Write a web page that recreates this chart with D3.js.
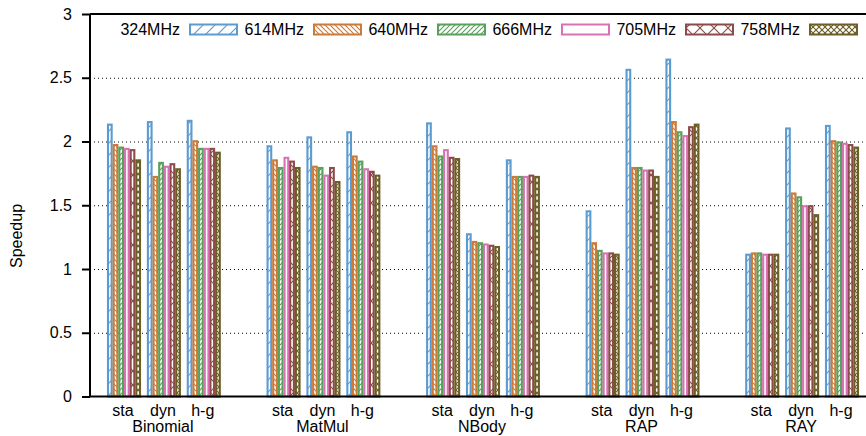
<!DOCTYPE html>
<html>
<head>
<meta charset="utf-8">
<script src="https://cdn.jsdelivr.net/npm/d3@7"></script>
<style>
	body { margin: 0; background: #fff; }
	svg { font-family: "Liberation Sans", Arial, sans-serif; font-size: 16px; }
	.grid line { stroke: #000; stroke-width: 1; stroke-dasharray: 1 3; }
	.grid path { display: none; }
	.yaxis path { display: none; }
	.yaxis line { stroke: #000; stroke-width: 2; }
	.yaxis text { font-size: 16px; fill: #000; }
</style>
</head>
<body>
<div id="chart"></div>
<script>
	// benchmarks and their three schedulers
	const groups = ["Binomial", "MatMul", "NBody", "RAP", "RAY"];
	const variants = ["sta", "dyn", "h-g"];
	const seriesNames = ["324MHz", "614MHz", "640MHz", "666MHz", "705MHz", "758MHz"];

	// speedups, listed group by group (sta, dyn, h-g)
	const s324 = [2.14, 2.16, 2.17, 1.97, 2.04, 2.08, 2.15, 1.28, 1.86, 1.46, 2.57, 2.65, 1.12, 2.11, 2.13];
	const s614 = [1.98, 1.73, 2.01, 1.86, 1.81, 1.89, 1.97, 1.22, 1.73, 1.21, 1.80, 2.16, 1.13, 1.60, 2.01];
	const s640 = [1.96, 1.84, 1.95, 1.80, 1.80, 1.85, 1.89, 1.21, 1.73, 1.15, 1.80, 2.08, 1.13, 1.57, 2.00];
	const s666 = [1.95, 1.81, 1.95, 1.88, 1.74, 1.79, 1.94, 1.20, 1.73, 1.13, 1.78, 2.05, 1.12, 1.50, 1.99];
	const s705 = [1.94, 1.83, 1.95, 1.85, 1.80, 1.77, 1.88, 1.19, 1.74, 1.13, 1.78, 2.12, 1.12, 1.50, 1.98];
	const s758 = [1.86, 1.79, 1.92, 1.80, 1.69, 1.74, 1.87, 1.18, 1.73, 1.12, 1.73, 2.14, 1.12, 1.43, 1.96];
	const seriesValues = [s324, s614, s640, s666, s705, s758];

	const yTicks = [0, 0.5, 1, 1.5, 2, 2.5, 3];

	/*-------------Size--------------*/
	const W = 866, H = 436;
	const plot = { l: 90, r: 866, t: 14, b: 396.5 };
	const colors = ["#5b9bd0", "#cc7a38", "#58a05b", "#d872b4", "#8c4a48", "#6b5f26"];

	const svg = d3.select("#chart").append("svg").attr("width", W).attr("height", H);

	/*-------------Patterns----------*/
	const defs = svg.append("defs");
	const pat = (id, size, color, paths) => {
		const p = defs.append("pattern").attr("id", id)
			.attr("patternUnits", "userSpaceOnUse")
			.attr("width", size).attr("height", size);
		p.append("rect").attr("width", size).attr("height", size).attr("fill", "#fff");
		paths.forEach((d) => p.append("path").attr("d", d).attr("stroke", color)
			.attr("stroke-width", 1.1).attr("fill", "none"));
	};
	const fwd = (s) => `M0,${s} L${s},0 M${-s / 2},${s / 2} L${s / 2},${-s / 2} M${s / 2},${s * 1.5} L${s * 1.5},${s / 2}`;
	const bwd = (s) => `M0,0 L${s},${s} M${-s / 2},${s / 2} L${s / 2},${s * 1.5} M${s / 2},${-s / 2} L${s * 1.5},${s / 2}`;
	pat("p0", 12, colors[0], [fwd(12)]);
	pat("p1", 5, colors[1], [bwd(5)]);
	pat("p2", 5, colors[2], [fwd(5)]);
	pat("p3", 10, colors[3], []);
	pat("p4", 14, colors[4], [fwd(14), bwd(14)]);
	pat("p5", 6, colors[5], [fwd(6), bwd(6)]);

	/*-------------Scales------------*/
	const y = d3.scaleLinear().domain([0, 3]).range([plot.b, plot.t]);
	// slot positions: three clusters per benchmark, one empty slot between benchmarks
	const slot = (g, v) => g * 4 + v + 1;
	const x = d3.scaleLinear().domain([1, 19]).range([124, 842]);
	const inner = d3.scaleBand().domain(d3.range(seriesNames.length)).range([-17, 17]).padding(0);

	/*-------------Grid & axes-------*/
	svg.append("g").attr("class", "grid")
		.attr("transform", `translate(${plot.l},0)`)
		.call(d3.axisLeft(y).tickValues([0.5, 1, 1.5, 2, 2.5]).tickSize(-(plot.r - plot.l)).tickFormat(""));

	svg.append("g").attr("class", "yaxis")
		.attr("transform", `translate(${plot.l},0)`)
		.call(d3.axisLeft(y).tickValues(yTicks).tickSize(8).tickPadding(10).tickFormat((d) => String(d)));

	/*-------------Bars--------------*/
	const bars = [];
	seriesValues.forEach((vals, si) => {
		vals.forEach((v, i) => {
			bars.push({ s: si, g: Math.floor(i / 3), v: i % 3, val: v });
		});
	});

	svg.append("g").selectAll("rect").data(bars).enter().append("rect")
		.attr("x", (d) => x(slot(d.g, d.v)) + inner(d.s) + 1)
		.attr("y", (d) => y(d.val) + 1)
		.attr("width", inner.bandwidth() - 2)
		.attr("height", (d) => y(0) - y(d.val) - 1)
		.attr("fill", (d) => `url(#p${d.s})`)
		.attr("stroke", (d) => colors[d.s])
		.attr("stroke-width", 2.1);

	/*-------------Frame-------------*/
	svg.append("line").attr("x1", plot.l).attr("x2", plot.l).attr("y1", plot.t).attr("y2", plot.b)
		.attr("stroke", "#000").attr("stroke-width", 2);
	svg.append("line").attr("x1", plot.l).attr("x2", plot.r).attr("y1", plot.b).attr("y2", plot.b)
		.attr("stroke", "#000").attr("stroke-width", 2);
	svg.append("line").attr("x1", plot.l).attr("x2", plot.r).attr("y1", plot.t).attr("y2", plot.t)
		.attr("stroke", "#000").attr("stroke-width", 2);

	/*-------------X labels----------*/
	const xl = svg.append("g").attr("text-anchor", "middle").attr("fill", "#000");
	groups.forEach((g, gi) => {
		variants.forEach((v, vi) => {
			xl.append("text").attr("x", x(slot(gi, vi)) - 1).attr("y", 416).text(v);
		});
		xl.append("text").attr("x", x(slot(gi, 1)) - 1).attr("y", 432).text(g);
	});

	svg.append("text").attr("transform", "translate(22,236) rotate(-90)")
		.attr("text-anchor", "middle").text("Speedup");

	/*-------------Legend------------*/
	const legend = svg.append("g");
	seriesNames.forEach((n, i) => {
		const x0 = 189 + i * 124;
		legend.append("text").attr("x", x0 - 9).attr("y", 35).attr("text-anchor", "end").text(n);
		legend.append("rect").attr("x", x0 + 1).attr("y", 24.5).attr("width", 47).attr("height", 10)
			.attr("fill", `url(#p${i})`).attr("stroke", colors[i]).attr("stroke-width", 2);
	});
</script>
</body>
</html>
